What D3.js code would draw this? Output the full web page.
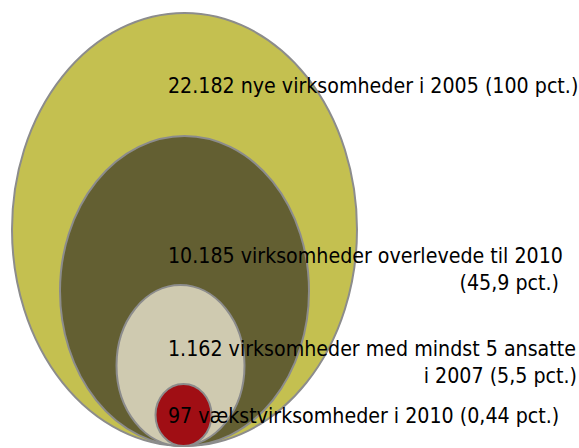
<!DOCTYPE html>
<html>
<head>
<meta charset="utf-8">
<script src="https://cdn.jsdelivr.net/npm/d3@7"></script>
<style>
  html, body { margin: 0; padding: 0; background: #fff; }
  svg { display: block; }
  text { font-family: "DejaVu Sans Condensed", "DejaVu Sans", sans-serif; font-stretch: condensed; }
</style>
</head>
<body>
<svg id="chart" width="579" height="448"></svg>
<script>
// ---- data ----
const categories = ["nye 2005", "overlevede 2010", "mindst 5 ansatte 2007", "vækstvirksomheder 2010"];
const counts = [22182, 10185, 1162, 97];
const labelFirstLines = [
  "22.182 nye virksomheder i 2005 (100 pct.)",
  "10.185 virksomheder overlevede til 2010",
  "1.162 virksomheder med mindst 5 ansatte",
  "97 vækstvirksomheder i 2010 (0,44 pct.)"
];
const labelSecondLines = ["", "(45,9 pct.)", "i 2007 (5,5 pct.)", ""];

// ---- layout ----
const W = 579, H = 448;
const baseY = 446;
const svg = d3.select("#chart");
const fills = d3.scaleOrdinal().domain(categories).range(["#C4C050", "#635F32", "#CFCAB0", "#A00E14"]);
const rxScale = d3.scaleLinear().domain([97, 1162, 10185, 22182]).range([28, 64, 124.5, 172.5]);
const ryScale = d3.scaleLinear().domain([97, 1162, 10185, 22182]).range([31, 80.5, 155, 216.5]);
const cxScale = d3.scaleOrdinal().domain(categories).range([184.5, 184.5, 180.5, 183.5]);
const labelY = d3.scaleOrdinal().domain(categories).range([93, 263, 356, 423]);
const secondRight = d3.scaleOrdinal().domain(categories).range([577, 559, 577, 558]);

const data = categories.map((c, i) => ({c, v: counts[i], l1: labelFirstLines[i], l2: labelSecondLines[i]}));

svg.selectAll("ellipse").data(data).join("ellipse")
  .attr("cx", d => cxScale(d.c))
  .attr("cy", d => baseY - ryScale(d.v))
  .attr("rx", d => rxScale(d.v))
  .attr("ry", d => ryScale(d.v))
  .attr("fill", d => fills(d.c))
  .attr("stroke", "#8c8c8c")
  .attr("stroke-width", 2);

const fs = 21.2;
const g = svg.append("g").attr("font-size", fs).attr("fill", "#000");
g.selectAll("text.l1").data(data).join("text").attr("class", "l1")
  .attr("x", 168).attr("y", d => labelY(d.c))
  .text(d => d.l1);
g.selectAll("text.l2").data(data.filter(d => d.l2)).join("text").attr("class", "l2")
  .attr("x", d => secondRight(d.c)).attr("y", d => labelY(d.c) + 27)
  .attr("text-anchor", "end")
  .text(d => d.l2);
</script>
</body>
</html>
